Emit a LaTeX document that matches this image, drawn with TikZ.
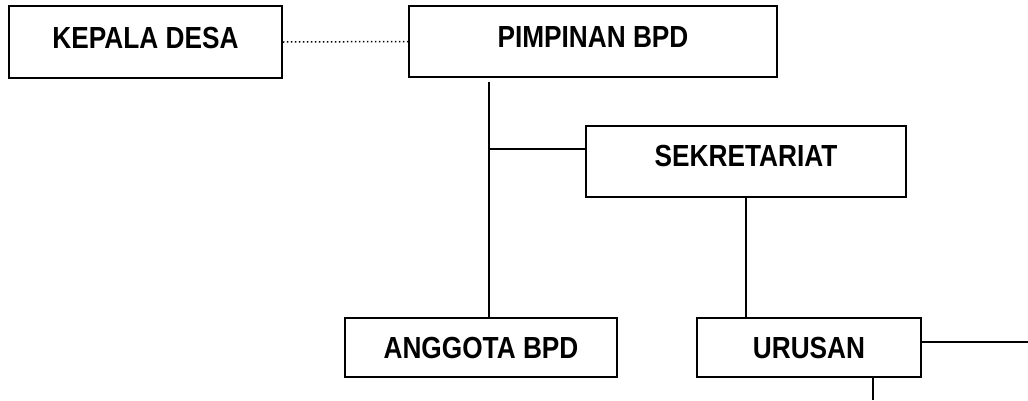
\documentclass[tikz,border=0pt]{standalone}
\usepackage{fontspec}
\newfontfamily\labfont[FakeStretch=0.86]{Liberation Sans}
\begin{document}
\begin{tikzpicture}[x=1pt,y=-1pt,
  box/.style={draw, line width=1.6pt, inner sep=0pt, font=\labfont\bfseries\fontsize{30.5}{30.5}\selectfont},
  link/.style={line width=1.4pt},
  dotlink/.style={line width=1.5pt, dash pattern=on 1.5pt off 2.5pt}]
\useasboundingbox (0,0) rectangle (1028,400);
\fill[white] (0,0) rectangle (1028,400);
\node[box, minimum width=273pt, minimum height=72pt, text depth=8pt] (kd) at (145.5,42) {KEPALA DESA};
\node[box, minimum width=368pt, minimum height=71pt, text depth=8pt] (pimp) at (593,41.5) {PIMPINAN BPD};
\node[box, minimum width=320pt, minimum height=71pt, text depth=11pt] (sek) at (746,161.5) {SEKRETARIAT};
\node[box, minimum width=272pt, minimum height=59pt] (ang) at (481,347.5) {ANGGOTA BPD};
\node[box, minimum width=224pt, minimum height=59pt] (uru) at (809,347.5) {URUSAN};
\coordinate (ptop) at (489,82);
\coordinate (j1) at (489,149);
\coordinate (rend) at (1028,342);
\coordinate (bend) at (873,400);
\draw[dotlink] (kd.east) -- (pimp.west);
\draw[link] (ptop) -- (ptop |- ang.north);
\draw[link] (j1) -- (j1 -| sek.west);
\draw[link] (sek.south) -- (sek.south |- uru.north);
\draw[link] (rend -| uru.east) -- (rend);
\draw[link] (bend |- uru.south) -- (bend);
\end{tikzpicture}
\end{document}
